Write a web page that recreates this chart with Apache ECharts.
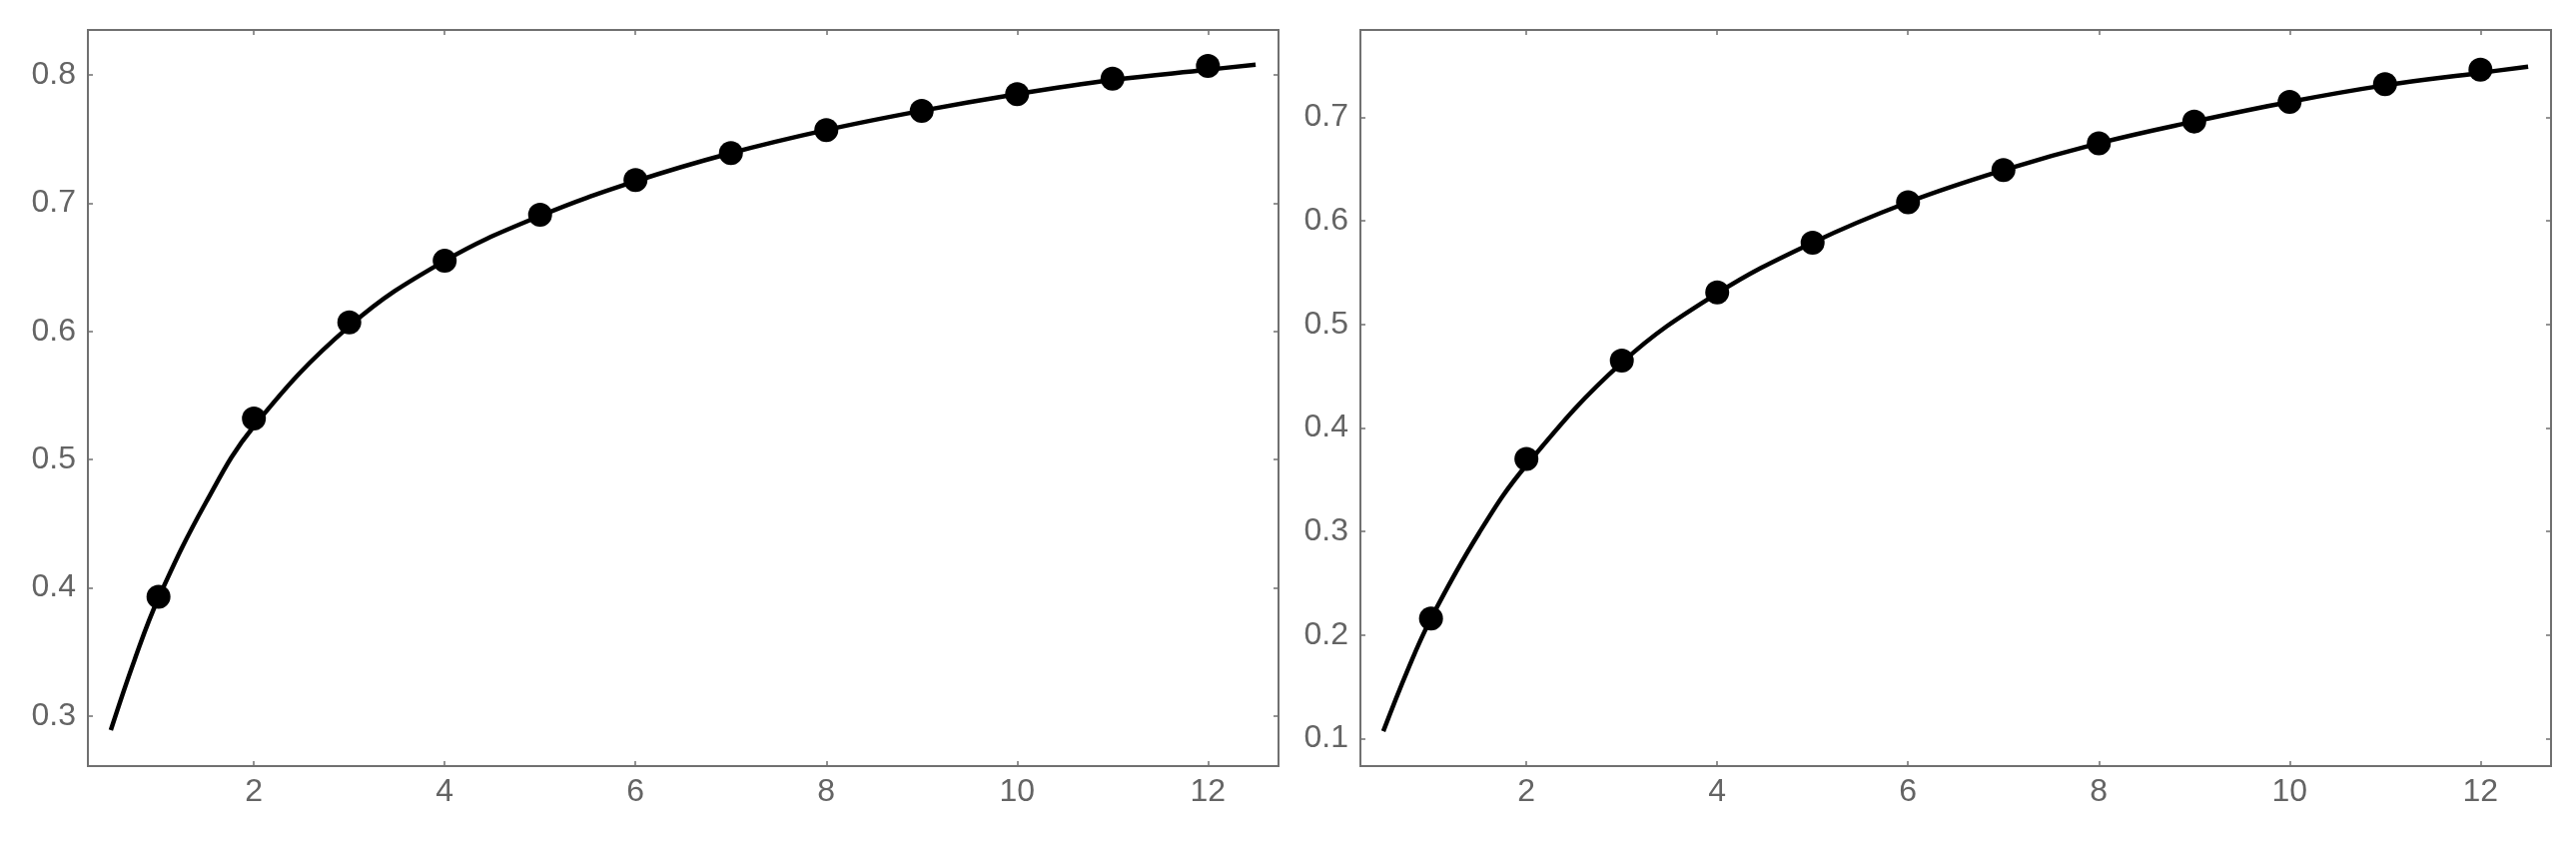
<!DOCTYPE html>
<html>
<head>
<meta charset="utf-8">
<script src="https://cdn.jsdelivr.net/npm/echarts@6/dist/echarts.min.js"></script>
<style>
  html, body { margin: 0; padding: 0; background: #fff; }
  #main { width: 2579px; height: 845px; }
</style>
</head>
<body>
<div id="main"></div>
<script>
// data
var xPoints = [1, 2, 3, 4, 5, 6, 7, 8, 9, 10, 11, 12];
var leftPoints = [0.393, 0.532, 0.607, 0.655, 0.691, 0.718, 0.739, 0.757, 0.772, 0.785, 0.797, 0.807];
var rightPoints = [0.216, 0.370, 0.465, 0.531, 0.579, 0.618, 0.649, 0.675, 0.696, 0.715, 0.732, 0.746];

// fitted curve, sampled along the drawn line
var curveX = [0.5, 0.75, 1, 1.5, 2, 3, 4, 5, 6, 7, 8, 9, 10, 11, 12, 12.5];
var leftCurve = [0.289, 0.344, 0.392, 0.467, 0.526, 0.604, 0.655, 0.690, 0.717, 0.739, 0.757, 0.772, 0.785, 0.796, 0.804, 0.808];
var rightCurve = [0.107, 0.165, 0.216, 0.298, 0.364, 0.463, 0.530, 0.579, 0.618, 0.649, 0.675, 0.696, 0.715, 0.731, 0.743, 0.749];

var xTicks = [2, 4, 6, 8, 10, 12];
var leftYTicks = [0.3, 0.4, 0.5, 0.6, 0.7, 0.8];
var rightYTicks = [0.1, 0.2, 0.3, 0.4, 0.5, 0.6, 0.7];

var chart = echarts.init(document.getElementById('main'));

var gray = '#707070';
var labelStyle = { color: '#646464', fontSize: 32, fontFamily: 'Liberation Sans, Arial, sans-serif' };

function pairs(xs, ys) {
  return xs.map(function (x, i) { return [x, ys[i]]; });
}

function xAxisFor(gi, pos, ticks) {
  return {
    type: 'value', gridIndex: gi, position: pos, min: 0.26, max: 12.74,
    axisLine: { show: false }, splitLine: { show: false },
    axisTick: { show: true, inside: true, length: 5, customValues: ticks, lineStyle: { color: gray, width: 1.5 } },
    axisLabel: pos === 'bottom'
      ? Object.assign({ show: true, margin: 10, customValues: ticks, formatter: function (v) { return String(v); } }, labelStyle)
      : { show: false }
  };
}

function yAxisFor(gi, pos, min, max, ticks) {
  return {
    type: 'value', gridIndex: gi, position: pos, min: min, max: max,
    axisLine: { show: false }, splitLine: { show: false },
    axisTick: { show: true, inside: true, length: 5, customValues: ticks, lineStyle: { color: gray, width: 1.5 } },
    axisLabel: pos === 'left'
      ? Object.assign({ show: true, margin: 12, customValues: ticks, formatter: function (v) { return v.toFixed(1); } }, labelStyle)
      : { show: false }
  };
}

var option = {
  backgroundColor: '#fff',
  animation: false,
  grid: [
    { left: 88, top: 30, width: 1192, height: 737, show: true, borderColor: gray, borderWidth: 2, backgroundColor: '#fff' },
    { left: 1362, top: 30, width: 1192, height: 737, show: true, borderColor: gray, borderWidth: 2, backgroundColor: '#fff' }
  ],
  xAxis: [
    xAxisFor(0, 'bottom', xTicks),
    xAxisFor(0, 'top', xTicks),
    xAxisFor(1, 'bottom', xTicks),
    xAxisFor(1, 'top', xTicks)
  ],
  yAxis: [
    yAxisFor(0, 'left', 0.261, 0.835, leftYTicks),
    yAxisFor(0, 'right', 0.261, 0.835, leftYTicks),
    yAxisFor(1, 'left', 0.0734, 0.7844, rightYTicks),
    yAxisFor(1, 'right', 0.0734, 0.7844, rightYTicks)
  ],
  series: [
    {
      type: 'line', xAxisIndex: 0, yAxisIndex: 0, data: pairs(curveX, leftCurve),
      smooth: 0.4, showSymbol: false, symbol: 'none',
      lineStyle: { color: '#000', width: 4.5 }, z: 2
    },
    {
      type: 'scatter', xAxisIndex: 0, yAxisIndex: 0, data: pairs(xPoints, leftPoints),
      symbol: 'circle', symbolSize: 24, itemStyle: { color: '#000', opacity: 1 }, z: 3
    },
    {
      type: 'line', xAxisIndex: 2, yAxisIndex: 2, data: pairs(curveX, rightCurve),
      smooth: 0.4, showSymbol: false, symbol: 'none',
      lineStyle: { color: '#000', width: 4.5 }, z: 2
    },
    {
      type: 'scatter', xAxisIndex: 2, yAxisIndex: 2, data: pairs(xPoints, rightPoints),
      symbol: 'circle', symbolSize: 24, itemStyle: { color: '#000', opacity: 1 }, z: 3
    }
  ]
};

chart.setOption(option);
</script>
</body>
</html>
